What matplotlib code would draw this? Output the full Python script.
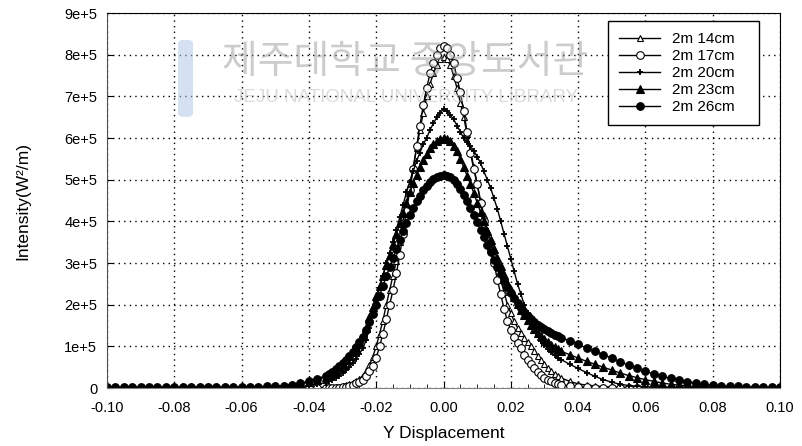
import numpy as np
import matplotlib
matplotlib.use('Agg')
import matplotlib.pyplot as plt
from matplotlib.patches import FancyBboxPatch
from matplotlib.ticker import MultipleLocator, FixedLocator, FixedFormatter

plt.rcParams['font.family'] = ['Liberation Sans', 'DejaVu Sans']

# measurement positions along Y [m]
y_pos = np.round(np.concatenate([
    np.arange(-0.100, -0.0605, 0.0025),   # far left tail
    np.arange(-0.060, -0.0365, 0.0025),   # left shoulder
    np.arange(-0.035, 0.0355, 0.001),     # main peak
    np.arange(0.0375, 0.0805, 0.0025),    # right shoulder
    np.arange(0.0825, 0.1005, 0.0025),    # far right tail
]), 4)

# intensity in units of 1e5 W/m^2
i_14 = [0.01, 0.01, 0.01, 0.01, 0.01, 0.01, 0.01, 0.01,
        0.01, 0.01, 0.01, 0.01, 0.01, 0.01, 0.01, 0.01,
        0.01, 0.01, 0.01, 0.01, 0.01, 0.01, 0.01, 0.01, 0.01, 0.01,
        0.01, 0.01, 0.01, 0.02, 0.03, 0.05, 0.07, 0.10, 0.13, 0.17,
        0.22, 0.30, 0.40, 0.55, 0.75, 1.00, 1.30, 1.62, 2.00, 2.35,
        2.70, 3.05, 3.50, 4.00, 4.45, 4.90, 5.30, 5.75, 6.20, 6.60,
        7.00, 7.30, 7.55, 7.75, 7.90, 7.95, 7.90, 7.75, 7.50, 7.20,
        6.85, 6.50, 6.10, 5.70, 5.30, 4.90, 4.50, 4.15, 3.80, 3.50,
        3.20, 2.95, 2.60, 2.30, 2.00, 1.80, 1.60, 1.45, 1.32, 1.20,
        1.10, 1.00, 0.90, 0.78, 0.67, 0.57, 0.48, 0.40, 0.34, 0.28,
        0.24,
        0.16, 0.10, 0.07, 0.05, 0.03, 0.02, 0.02, 0.01, 0.01, 0.01,
        0.01, 0.01, 0.01, 0.01, 0.01, 0.01, 0.01, 0.01,
        0.01, 0.01, 0.01, 0.01, 0.01, 0.01, 0.01, 0.01]

i_17 = [0.01, 0.01, 0.01, 0.01, 0.01, 0.01, 0.01, 0.01,
        0.01, 0.01, 0.01, 0.01, 0.01, 0.01, 0.01, 0.01,
        0.01, 0.01, 0.01, 0.01, 0.01, 0.01, 0.01, 0.01, 0.01, 0.01,
        0.01, 0.01, 0.01, 0.01, 0.01, 0.02, 0.03, 0.05, 0.08, 0.11,
        0.15, 0.20, 0.30, 0.40, 0.52, 0.72, 1.00, 1.30, 1.65, 2.00,
        2.35, 2.75, 3.20, 3.70, 4.25, 4.75, 5.25, 5.80, 6.30, 6.80,
        7.20, 7.55, 7.80, 8.00, 8.15, 8.20, 8.15, 8.00, 7.80, 7.45,
        7.10, 6.65, 6.15, 5.65, 5.25, 4.90, 4.45, 4.00, 3.65, 3.30,
        3.00, 2.60, 2.25, 1.90, 1.60, 1.40, 1.22, 1.08, 0.95, 0.80,
        0.68, 0.57, 0.47, 0.38, 0.31, 0.25, 0.20, 0.16, 0.13, 0.10,
        0.08,
        0.05, 0.03, 0.02, 0.01, 0.01, 0.01, 0.01, 0.01, 0.01, 0.01,
        0.01, 0.01, 0.01, 0.01, 0.01, 0.01, 0.01, 0.01,
        0.01, 0.01, 0.01, 0.01, 0.01, 0.01, 0.01, 0.01]

i_20 = [0.01, 0.01, 0.01, 0.01, 0.01, 0.01, 0.01, 0.01,
        0.01, 0.01, 0.01, 0.01, 0.01, 0.01, 0.01, 0.01,
        0.01, 0.01, 0.01, 0.02, 0.02, 0.02, 0.03, 0.04, 0.06, 0.09,
        0.13, 0.16, 0.20, 0.25, 0.30, 0.36, 0.43, 0.50, 0.60, 0.70,
        0.82, 0.95, 1.15, 1.45, 1.75, 2.10, 2.40, 2.70, 3.00, 3.25,
        3.50, 3.80, 4.10, 4.40, 4.70, 4.95, 5.20, 5.45, 5.65, 5.85,
        6.00, 6.20, 6.35, 6.50, 6.60, 6.70, 6.65, 6.55, 6.45, 6.30,
        6.15, 6.00, 5.90, 5.80, 5.70, 5.55, 5.40, 5.20, 5.00, 4.80,
        4.55, 4.30, 4.00, 3.70, 3.40, 3.10, 2.80, 2.50, 2.25, 2.00,
        1.80, 1.60, 1.42, 1.27, 1.14, 1.03, 0.94, 0.86, 0.79, 0.73,
        0.68,
        0.57, 0.47, 0.37, 0.28, 0.20, 0.14, 0.09, 0.06, 0.04, 0.03,
        0.02, 0.02, 0.01, 0.01, 0.01, 0.01, 0.01, 0.01,
        0.01, 0.01, 0.01, 0.01, 0.01, 0.01, 0.01, 0.01]

i_23 = [0.01, 0.01, 0.01, 0.01, 0.01, 0.01, 0.01, 0.01,
        0.02, 0.02, 0.02, 0.02, 0.02, 0.02, 0.02, 0.02,
        0.02, 0.02, 0.03, 0.03, 0.04, 0.05, 0.07, 0.10, 0.14, 0.20,
        0.27, 0.31, 0.36, 0.42, 0.50, 0.58, 0.67, 0.76, 0.86, 0.97,
        1.10, 1.25, 1.45, 1.70, 1.95, 2.20, 2.45, 2.70, 2.95, 3.20,
        3.45, 3.70, 3.95, 4.20, 4.45, 4.70, 4.92, 5.12, 5.30, 5.47,
        5.62, 5.75, 5.85, 5.93, 5.98, 6.00, 5.98, 5.92, 5.82, 5.68,
        5.50, 5.30, 5.10, 4.90, 4.68, 4.45, 4.22, 4.00, 3.78, 3.55,
        3.33, 3.12, 2.92, 2.72, 2.53, 2.35, 2.18, 2.02, 1.88, 1.75,
        1.63, 1.52, 1.42, 1.33, 1.25, 1.17, 1.10, 1.04, 0.98, 0.93,
        0.88,
        0.80, 0.72, 0.64, 0.57, 0.50, 0.43, 0.36, 0.30, 0.25, 0.20,
        0.16, 0.12, 0.09, 0.07, 0.05, 0.04, 0.03, 0.02,
        0.02, 0.02, 0.01, 0.01, 0.01, 0.01, 0.01, 0.01]

i_26 = [0.02, 0.02, 0.02, 0.02, 0.02, 0.02, 0.02, 0.02,
        0.02, 0.02, 0.02, 0.02, 0.02, 0.02, 0.02, 0.02,
        0.02, 0.03, 0.03, 0.04, 0.05, 0.06, 0.08, 0.12, 0.16, 0.22,
        0.30, 0.34, 0.39, 0.45, 0.52, 0.60, 0.68, 0.77, 0.87, 0.98,
        1.10, 1.23, 1.40, 1.58, 1.78, 2.00, 2.22, 2.45, 2.68, 2.90,
        3.12, 3.34, 3.55, 3.76, 3.96, 4.15, 4.32, 4.48, 4.62, 4.75,
        4.86, 4.95, 5.02, 5.07, 5.10, 5.12, 5.10, 5.06, 4.99, 4.90,
        4.78, 4.64, 4.48, 4.32, 4.15, 3.98, 3.80, 3.62, 3.44, 3.26,
        3.08, 2.90, 2.73, 2.57, 2.42, 2.28, 2.15, 2.03, 1.92, 1.82,
        1.73, 1.65, 1.58, 1.52, 1.46, 1.41, 1.36, 1.32, 1.28, 1.24,
        1.21,
        1.13, 1.05, 0.96, 0.88, 0.80, 0.72, 0.63, 0.55, 0.47, 0.40,
        0.34, 0.28, 0.23, 0.19, 0.15, 0.12, 0.09, 0.07,
        0.05, 0.04, 0.04, 0.03, 0.03, 0.02, 0.02, 0.02]

labels = ['2m 14cm', '2m 17cm', '2m 20cm', '2m 23cm', '2m 26cm']
x_ticks = [-0.10, -0.08, -0.06, -0.04, -0.02, 0.00, 0.02, 0.04, 0.06, 0.08, 0.10]
x_ticklabels = ['-0.10', '-0.08', '-0.06', '-0.04', '-0.02', '0.00',
                '0.02', '0.04', '0.06', '0.08', '0.10']
y_ticks = [0, 1e5, 2e5, 3e5, 4e5, 5e5, 6e5, 7e5, 8e5, 9e5]
y_ticklabels = ['0', '1e+5', '2e+5', '3e+5', '4e+5', '5e+5', '6e+5', '7e+5', '8e+5', '9e+5']

fig = plt.figure(figsize=(8.02, 4.46), dpi=100)
ax = fig.add_axes([0.1334, 0.130, 0.8392, 0.8408])

styles = [
    dict(marker='^', mfc='white', ms=5.0, mew=0.8),
    dict(marker='o', mfc='white', ms=5.5, mew=0.8),
    dict(marker='+', mfc='black', ms=5.0, mew=1.3),
    dict(marker='^', mfc='black', ms=5.5, mew=0.8),
    dict(marker='o', mfc='black', ms=5.5, mew=0.8),
]
series = [i_14, i_17, i_20, i_23, i_26]
for vals, lab, st in zip(series, labels, styles):
    ax.plot(y_pos, np.array(vals) * 1e5, color='black', lw=1.0,
            mec='black', label=lab, **st)

ax.set_xlim(-0.10, 0.10)
ax.set_ylim(0, 9e5)
ax.xaxis.set_major_locator(FixedLocator(x_ticks))
ax.xaxis.set_major_formatter(FixedFormatter(x_ticklabels))
ax.xaxis.set_minor_locator(MultipleLocator(0.005))
ax.yaxis.set_major_locator(FixedLocator(y_ticks))
ax.yaxis.set_major_formatter(FixedFormatter(y_ticklabels))
ax.tick_params(axis='both', which='both', direction='in', labelsize=10.5)
ax.tick_params(axis='both', which='major', length=4)
ax.tick_params(axis='x', which='major', pad=9)
ax.tick_params(axis='y', which='major', pad=7)
ax.tick_params(axis='x', which='minor', length=3)

ax.grid(True, which='major', color='black', linestyle=(0, (1, 3)), lw=1.0)
ax.set_axisbelow(True)

for side in ['top', 'right']:
    ax.spines[side].set_color('black')
ax.spines['bottom'].set_color('#808080')
ax.spines['left'].set_color('#505050')

ax.set_xlabel('Y Displacement', fontsize=12.5, labelpad=8)
ax.set_ylabel('Intensity(W²/m)', fontsize=12.5)
ax.yaxis.set_label_coords(-0.114, 0.5)

leg = ax.legend(loc='upper left', bbox_to_anchor=(0.7444, 0.6787, 0.2244, 0.30),
                mode='expand', fontsize=11, frameon=True, fancybox=False,
                edgecolor='black', handlelength=2.7, borderpad=0.72,
                labelspacing=0.2, handletextpad=0.75, borderaxespad=0)
leg.get_frame().set_linewidth(1.0)
leg.get_frame().set_alpha(1)

# faint library stamp over the plot
fig.text(0.505, 0.862, '제주대학교 중앙도서관', family=['Noto Sans CJK KR'],
         fontsize=28, color='#9a9a9a', alpha=0.5, ha='center', va='center')
fig.text(0.506, 0.781, 'JEJU NATIONAL UNIVERSITY LIBRARY', family=['Liberation Sans'],
         fontsize=13.5, color='#c4c4c4', alpha=0.6, ha='center', va='center')
fig.patches.append(FancyBboxPatch((0.222, 0.738), 0.0187, 0.1726,
                                  boxstyle='round,pad=0,rounding_size=0.008',
                                  transform=fig.transFigure, facecolor='#b3c9e8',
                                  edgecolor='none', alpha=0.55))

fig.savefig('out.png', dpi=100)
